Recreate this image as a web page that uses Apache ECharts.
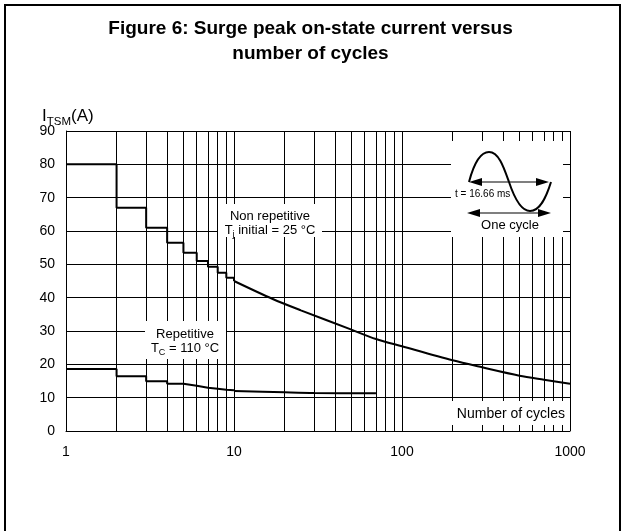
<!DOCTYPE html>
<html><head><meta charset="utf-8">
<script src="https://cdn.jsdelivr.net/npm/echarts@6/dist/echarts.min.js"></script>
<style>html,body{margin:0;padding:0;background:#fff}#c{width:621px;height:531px}</style>
</head><body><div id="c"></div>
<script>
// ---- data ----
const xTickLabels = ['1', '10', '100', '1000'];
const yTickValues = [0, 10, 20, 30, 40, 50, 60, 70, 80, 90];
const minorGridX = [2, 3, 4, 5, 6, 7, 8, 9, 20, 30, 40, 50, 60, 70, 80, 90, 200, 300, 400, 500, 600, 700, 800, 900];

const nonRepStepX = [1, 2, 3, 4, 5, 6, 7, 8, 9, 10];
const nonRepStepY = [80, 67, 61, 56.5, 53.5, 51, 49.3, 47.5, 46, 45];
const nonRepCurveX = [10, 17, 25, 50, 70, 100, 200, 300, 500, 700, 1000];
const nonRepCurveY = [45, 39.6, 36.2, 30.4, 27.6, 25.4, 21.2, 19.1, 16.6, 15.4, 14.2];

const repStepX = [1, 2, 3, 4, 5, 6, 7, 8, 9, 10];
const repStepY = [18.6, 16.4, 14.9, 14.2, 13.6, 13.0, 12.7, 12.4, 12.2, 12.0];
const repCurveX = [10, 20, 30, 70];
const repCurveY = [12.0, 11.6, 11.4, 11.3];

// ---- chart ----
const FONT = '"Liberation Sans", Arial, Helvetica, sans-serif';
const pairs = (xs, ys) => xs.map((x, i) => [x, ys[i]]);
const mctx = document.createElement('canvas').getContext('2d');
function tw(text, size) { mctx.font = size + 'px ' + FONT; return mctx.measureText(text).width; }

function subText(parts, cx, cy, baseSize, subSize, align) {
  const widths = parts.map(p => tw(p[0], p[1] ? subSize : baseSize));
  const total = widths.reduce((a, b) => a + b, 0);
  let x = align === 'left' ? cx : cx - total / 2;
  const els = [];
  parts.forEach((p, i) => {
    els.push({
      type: 'text', z: 20, silent: true,
      style: {
        text: p[0], x: x, y: p[1] ? cy + baseSize * 0.32 : cy,
        fill: '#000', font: (p[1] ? subSize : baseSize) + 'px ' + FONT,
        textAlign: 'left', textVerticalAlign: 'middle'
      }
    });
    x += widths[i];
  });
  return els;
}

function bez(x1, y1, c1x, c1y, c2x, c2y, x2, y2) {
  return { type: 'bezierCurve', z: 20, silent: true,
    shape: { x1: x1, y1: y1, cpx1: c1x, cpy1: c1y, cpx2: c2x, cpy2: c2y, x2: x2, y2: y2 },
    style: { fill: null, stroke: '#000', lineWidth: 2 } };
}

const chart = echarts.init(document.getElementById('c'));
const lineStyleCurve = { color: '#000', width: 2 };
const MASK_Z = 8;

const graphics = [
  { type: 'rect', z: 30, silent: true, shape: { x: 5, y: 5, width: 615, height: 580 }, style: { fill: null, stroke: '#000', lineWidth: 2 } },
  { type: 'rect', z: MASK_Z, silent: true, shape: { x: 218, y: 204, width: 104, height: 33 }, style: { fill: '#fff' } },
  { type: 'rect', z: MASK_Z, silent: true, shape: { x: 145, y: 321, width: 81, height: 38 }, style: { fill: '#fff' } },
  { type: 'rect', z: MASK_Z, silent: true, shape: { x: 446, y: 401, width: 121, height: 24 }, style: { fill: '#fff' } },
  { type: 'rect', z: MASK_Z, silent: true, shape: { x: 451, y: 141, width: 112, height: 96 }, style: { fill: '#fff' } },
  bez(469, 182, 474, 163, 480, 152, 489, 152),
  bez(489, 152, 499, 152, 504, 168, 509, 182),
  bez(509, 182, 514, 197, 521, 211, 530, 211),
  bez(530, 211, 540, 211, 546, 198, 551, 182),
  { type: 'line', z: 20, silent: true, shape: { x1: 475, y1: 182, x2: 543, y2: 182 }, style: { stroke: '#000', lineWidth: 1.2 } },
  { type: 'polygon', z: 20, silent: true, shape: { points: [[469, 182], [482, 178], [482, 186]] }, style: { fill: '#000' } },
  { type: 'polygon', z: 20, silent: true, shape: { points: [[549, 182], [536, 178], [536, 186]] }, style: { fill: '#000' } },
  { type: 'line', z: 20, silent: true, shape: { x1: 473, y1: 213, x2: 545, y2: 213 }, style: { stroke: '#000', lineWidth: 1.2 } },
  { type: 'polygon', z: 20, silent: true, shape: { points: [[467, 213], [480, 209], [480, 217]] }, style: { fill: '#000' } },
  { type: 'polygon', z: 20, silent: true, shape: { points: [[551, 213], [538, 209], [538, 217]] }, style: { fill: '#000' } },
  { type: 'text', z: 21, silent: true, style: { text: 't = 16.66 ms', x: 455, y: 194, font: '10px ' + FONT, fill: '#000', textAlign: 'left', textVerticalAlign: 'middle' } },
  { type: 'text', z: 21, silent: true, style: { text: 'One cycle', x: 510, y: 225, font: '13px ' + FONT, fill: '#000', textAlign: 'center', textVerticalAlign: 'middle' } },
  { type: 'text', z: 20, silent: true, style: { text: 'Non repetitive', x: 270, y: 216, font: '13px ' + FONT, fill: '#000', textAlign: 'center', textVerticalAlign: 'middle' } },
  ...subText([['T', false], ['j', true], [' initial = 25 °C', false]], 270, 230, 13, 9, 'center'),
  { type: 'text', z: 20, silent: true, style: { text: 'Repetitive', x: 185, y: 334, font: '13px ' + FONT, fill: '#000', textAlign: 'center', textVerticalAlign: 'middle' } },
  ...subText([['T', false], ['C', true], [' = 110 °C', false]], 185, 348, 13, 9, 'center'),
  { type: 'text', z: 20, silent: true, style: { text: 'Number of cycles', x: 565, y: 414, font: '14px ' + FONT, fill: '#000', textAlign: 'right', textVerticalAlign: 'middle' } },
  ...subText([['I', false], ['TSM', true], ['(A)', false]], 42, 116, 17, 11.5, 'left')
];

chart.setOption({
  animation: false,
  backgroundColor: '#fff',
  title: {
    text: 'Figure 6: Surge peak on-state current versus\nnumber of cycles',
    left: 'center', top: 11,
    textStyle: { fontFamily: FONT, fontSize: 19, fontWeight: 'bold', color: '#000', lineHeight: 25 }
  },
  grid: { left: 66, top: 131, width: 504, height: 300 },
  xAxis: {
    type: 'log', logBase: 10, min: 1, max: 1000,
    axisLine: { show: true, lineStyle: { color: '#000', width: 1 } },
    axisTick: { show: false },
    axisLabel: {
      color: '#000', fontFamily: FONT, fontSize: 14, margin: 14,
      formatter: v => { const i = Math.round(Math.log10(v)); return xTickLabels[i] !== undefined ? xTickLabels[i] : ''; }
    },
    splitLine: { show: true, lineStyle: { color: '#000', width: 1 } }
  },
  yAxis: {
    type: 'value', min: yTickValues[0], max: yTickValues[yTickValues.length - 1], interval: 10,
    axisLine: { show: true, lineStyle: { color: '#000', width: 1 } },
    axisTick: { show: false },
    axisLabel: { color: '#000', fontFamily: FONT, fontSize: 14, margin: 11 },
    splitLine: { show: true, lineStyle: { color: '#000', width: 1 } }
  },
  series: [
    {
      type: 'line', data: [], z: 1, silent: true,
      markLine: {
        z: 1, silent: true, symbol: 'none', animation: false,
        label: { show: false },
        lineStyle: { color: '#000', width: 1, type: 'solid' },
        emphasis: { disabled: true },
        data: minorGridX.map(v => ({ xAxis: v }))
      }
    },
    { type: 'line', step: 'end', data: pairs(nonRepStepX, nonRepStepY), showSymbol: false, symbol: 'none', lineStyle: lineStyleCurve, z: 10, silent: true },
    { type: 'line', smooth: 0.3, data: pairs(nonRepCurveX, nonRepCurveY), showSymbol: false, symbol: 'none', lineStyle: lineStyleCurve, z: 10, silent: true },
    { type: 'line', step: 'end', data: pairs(repStepX, repStepY), showSymbol: false, symbol: 'none', lineStyle: lineStyleCurve, z: 10, silent: true },
    { type: 'line', smooth: 0.3, data: pairs(repCurveX, repCurveY), showSymbol: false, symbol: 'none', lineStyle: lineStyleCurve, z: 10, silent: true }
  ],
  graphic: { elements: graphics }
});
</script>
</body></html>
